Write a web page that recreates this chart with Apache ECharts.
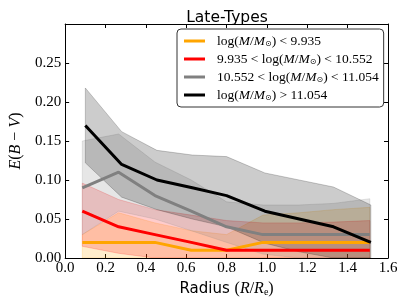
<!DOCTYPE html>
<html><head><meta charset="utf-8">
<script src="https://cdn.jsdelivr.net/npm/echarts@6/dist/echarts.min.js"></script>
<style>html,body{margin:0;padding:0;background:#fff}#c{width:407px;height:305px}</style>
</head><body><div id="c"></div>
<script>
// Radii (R/Re)
const radiusLow = [0.085, 0.265, 0.445, 0.625, 0.80, 0.98, 1.16, 1.33, 1.51];
const radiusHigh = [0.10, 0.28, 0.455, 0.63, 0.80, 0.99, 1.16, 1.33, 1.515];
// E(B-V) medians
const ebvOrange = [0.02, 0.02, 0.02, 0.01, 0.01, 0.02, 0.02, 0.02, 0.02];
const ebvRed    = [0.06, 0.04, 0.03, 0.02, 0.01, 0.01, 0.01, 0.01, 0.01];
const ebvGray   = [0.09, 0.11, 0.08, 0.06, 0.04, 0.03, 0.03, 0.03, 0.03];
const ebvBlack  = [0.17, 0.12, 0.10, 0.09, 0.08, 0.06, 0.05, 0.04, 0.02];
// scatter bands (lower / upper)
const loOrange = [0.0, 0.0, 0.0, 0.0, 0.0, 0.0, 0.0, 0.0, 0.0];
const hiOrange = [0.03, 0.058, 0.045, 0.035, 0.03, 0.055, 0.058, 0.062, 0.065];
const loRed    = [0.015, 0.006, 0.0, 0.0, 0.0, 0.0, 0.0, 0.0, 0.0];
const hiRed    = [0.096, 0.075, 0.062, 0.055, 0.048, 0.045, 0.045, 0.046, 0.048];
const loGray   = [0.03, 0.06, 0.05, 0.035, 0.02, 0.005, 0.0, 0.0, 0.0];
const hiGray   = [0.150, 0.159, 0.123, 0.10, 0.072, 0.068, 0.068, 0.070, 0.076];
const loBlack  = [0.122, 0.078, 0.062, 0.05, 0.04, 0.019, 0.008, 0.0, 0.0];
const hiBlack  = [0.218, 0.162, 0.138, 0.132, 0.130, 0.109, 0.100, 0.091, 0.068];
// legend labels
const labelOrange = 'log(M/M⊙) < 9.935';
const labelRed = '9.935 < log(M/M⊙) < 10.552';
const labelGray = '10.552 < log(M/M⊙) < 11.054';
const labelBlack = 'log(M/M⊙) > 11.054';
const richLabels = {};
richLabels[labelOrange] = '{r|log(}{i|M}{r|/}{i|M}{s|⊙}{r|) < 9.935}';
richLabels[labelRed] = '{r|9.935 < log(}{i|M}{r|/}{i|M}{s|⊙}{r|) < 10.552}';
richLabels[labelGray] = '{r|10.552 < log(}{i|M}{r|/}{i|M}{s|⊙}{r|) < 11.054}';
richLabels[labelBlack] = '{r|log(}{i|M}{r|/}{i|M}{s|⊙}{r|) > 11.054}';

const serif = 'Liberation Serif';
function band(name, xs, lo, hi, color) {
  return {
    type: 'custom', name: name, silent: true, z: 1, clip: true,
    data: xs.map((x, i) => [x, lo[i], hi[i]]),
    encode: { x: 0, y: [1, 2] },
    renderItem: function (params, api) {
      if (params.dataIndex !== 0) return;
      const pts = [];
      for (let i = 0; i < xs.length; i++) pts.push(api.coord([xs[i], hi[i]]));
      for (let i = xs.length - 1; i >= 0; i--) pts.push(api.coord([xs[i], lo[i]]));
      return { type: 'polygon', shape: { points: pts }, style: { fill: color, stroke: color, lineWidth: 1 } };
    }
  };
}
function line(name, xs, ys, color) {
  return {
    type: 'line', name: name, z: 5, symbol: 'none', silent: true,
    data: xs.map((x, i) => [x, ys[i]]),
    lineStyle: { color: color, width: 3 }, itemStyle: { color: color }
  };
}
const chart = echarts.init(document.getElementById('c'), null, { renderer: 'canvas' });
const axisCommon = {
  axisLine: { show: true, onZero: false, lineStyle: { color: '#000', width: 1 } },
  axisTick: { show: true, inside: true, length: 4, lineStyle: { color: '#000' } },
  splitLine: { show: false }
};
chart.setOption({
  animation: false,
  title: { text: 'Late-Types', left: 222, top: 5, textAlign: 'center',
    textStyle: { fontFamily: 'DejaVu Sans', fontSize: 15.5, fontWeight: 'normal', color: '#000' } },
  grid: { left: 57, right: 19, top: 24, bottom: 47 },
  legend: {
    data: [labelOrange, labelRed, labelGray, labelBlack],
    orient: 'vertical', left: 177, top: 29,
    icon: 'rect', itemWidth: 21, itemHeight: 3, itemGap: 4,
    padding: [5, 5, 5, 7],
    borderColor: '#333', borderWidth: 1, borderRadius: 4, backgroundColor: '#fff',
    formatter: n => richLabels[n],
    textStyle: {
      padding: [0, 0, 0, 7],
      rich: {
        r: { fontFamily: serif, fontSize: 13.5, color: '#000' },
        i: { fontFamily: serif, fontSize: 13.5, fontStyle: 'italic', color: '#000' },
        s: { fontFamily: 'DejaVu Sans', fontSize: 8, color: '#000', padding: [6, 0, 0, 0] }
      }
    }
  },
  xAxis: [
    Object.assign({ type: 'value', min: 0, max: 1.6, interval: 0.2, position: 'bottom',
      name: '{a|Radius }{b|(}{c|R}{b|/}{c|R}{d|e}{b|)}', nameLocation: 'middle', nameGap: 19,
      nameTextStyle: { rich: {
        a: { fontFamily: 'DejaVu Sans', fontSize: 15, color: '#000' },
        b: { fontFamily: serif, fontSize: 16, color: '#000' },
        c: { fontFamily: serif, fontSize: 16, fontStyle: 'italic', color: '#000' },
        d: { fontFamily: serif, fontSize: 10, color: '#000', padding: [7, 0, 0, 0] } } },
      axisLabel: { fontFamily: serif, fontSize: 15, color: '#000', margin: 3,
        formatter: v => v.toFixed(1) } }, axisCommon),
    Object.assign({ type: 'value', min: 0, max: 1.6, interval: 0.2, position: 'top',
      axisLabel: { show: false } }, axisCommon)
  ],
  yAxis: [
    Object.assign({ type: 'value', min: 0, max: 0.3, interval: 0.05, position: 'left',
      name: '{c|E}{b|(}{c|B}{b| − }{c|V}{b|)}', nameLocation: 'middle', nameGap: 33, nameRotate: 90,
      nameTextStyle: { rich: {
        b: { fontFamily: serif, fontSize: 16, color: '#000' },
        c: { fontFamily: serif, fontSize: 16, fontStyle: 'italic', color: '#000' } } },
      axisLabel: { fontFamily: serif, fontSize: 15, color: '#000', margin: 4,
        formatter: v => (v > 0.29 ? '' : v.toFixed(2)) } }, axisCommon),
    Object.assign({ type: 'value', min: 0, max: 0.3, interval: 0.05, position: 'right',
      axisLabel: { show: false } }, axisCommon)
  ],
  series: [
    band('bandOrange', radiusLow, loOrange, hiOrange, 'rgba(255,165,0,0.2)'),
    band('bandRed', radiusLow, loRed, hiRed, 'rgba(255,0,0,0.2)'),
    band('bandGray', radiusLow, loGray, hiGray, 'rgba(128,128,128,0.2)'),
    band('bandBlack', radiusHigh, loBlack, hiBlack, 'rgba(0,0,0,0.2)'),
    line(labelOrange, radiusLow, ebvOrange, '#ffa500'),
    line(labelRed, radiusLow, ebvRed, '#ff0000'),
    line(labelGray, radiusLow, ebvGray, '#808080'),
    line(labelBlack, radiusHigh, ebvBlack, '#000000')
  ]
});
</script></body></html>
